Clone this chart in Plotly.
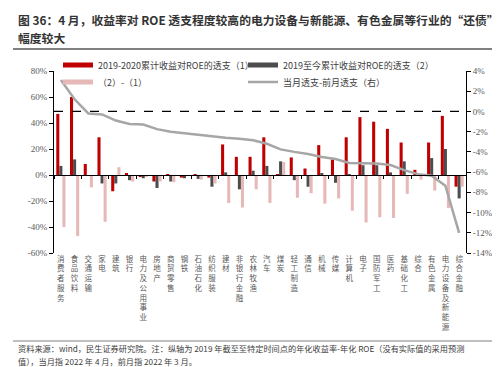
import plotly.graph_objects as go

categories = ["消费者服务","食品饮料","交通运输","家电","建筑","银行","电力及公用事业","房地产","商贸零售","钢铁",
              "石油石化","纺织服装","建材","非银行金融","农林牧渔","汽车","煤炭","轻工制造","通信","机械",
              "传媒","计算机","电子","国防军工","医药","基础化工","综合","有色金属","电力设备及新能源","综合金融"]

s1_2019_2020 = [47, 60, 8.5, 29, -12.5, 1, -1, -5, 0.5, -2,
                0.5, -2, 23.5, 14, 14, 29, 0.5, 13.5, 5, 23,
                12, 29, 44.5, 41, 35.5, 25, 4, 25, 45.5, -9]
s2_2019_now = [7, 12, -0.5, -6.5, -6.5, -4, -2.5, -10, -5, -2.5,
               -3, -9, 2, -11, 3.3, 7, 10.5, -4, -9, 1.3,
               -6, 0.5, 7.5, 7.5, 2, 10.5, 0.5, 13, 20, -18]
s_diff = [-40, -47, -9.5, -36, 6, -5, -1.5, -5, -5.5, -0.5,
          -3.5, -6.5, -21.5, -25, -11, -21.5, 10, -17.5, -14, -22,
          -18, -27.5, -36.5, -32.5, -33, -14.5, -3.5, -12, -25.5, -9]
line_month = [3.1, 1.2, -0.2, -0.3, -0.9, -1.25, -1.3, -1.75, -2.0, -2.15,
              -2.3, -2.5, -2.6, -2.7, -2.85, -3.2, -3.75, -4.0, -4.2, -4.5,
              -4.7, -5.1, -5.15, -5.15, -5.3, -5.8, -6.2, -6.35, -7.35, -12.0]

names = ["2019-2020累计收益对ROE的透支（1）", "2019至今累计收益对ROE的透支（2）",
         "（2）-（1）", "当月透支-前月透支（右）"]

left_ticks = [80, 60, 40, 20, 0, -20, -40, -60]
right_ticks = [4, 2, 0, -2, -4, -6, -8, -10, -12, -14]

RED = "#C00000"
DARK = "#4D4D4D"
PINK = "#E6B9B8"
GRAY = "#A6A6A6"
CJK = "Noto Sans CJK SC"
SERIF = "Liberation Serif"

W, H = 500, 367
L, R, T, B = 46, 42, 63, 122
PW, PH = W - L - R, H - T - B


def px_x(x):
    return (x - L) / PW


def px_y(y):
    return 1 - (y - T) / PH


fig = go.Figure()
cols = [RED, DARK, PINK]
for vals, c, n in zip([s1_2019_2020, s2_2019_now, s_diff], cols, names[:3]):
    fig.add_trace(go.Bar(x=categories, y=vals, marker=dict(color=c, line=dict(width=0)),
                         name=n, showlegend=False))

fig.add_trace(go.Scatter(x=categories, y=line_month, mode="lines", line=dict(color=GRAY, width=2.5),
                         name=names[3], showlegend=False, xaxis="x2", yaxis="y2"))

# legend-only entries (wide bar-like symbols), two rows via two legends
leg_specs = [(RED, 5, names[0], "legend"), (DARK, 5, names[1], "legend"),
             (PINK, 5, names[2], "legend2"), (GRAY, 2.5, names[3], "legend2")]
for c, w, n, lg in leg_specs:
    fig.add_trace(go.Scatter(x=[None], y=[None], mode="lines", line=dict(color=c, width=w),
                             name=n, legend=lg))

ticktext = ["<br>".join(list(c)) for c in categories]

leg_common = dict(orientation="h", xanchor="left", yanchor="middle",
                  entrywidth=140, entrywidthmode="pixels", itemwidth=30,
                  font=dict(family=CJK, size=9, color="#404040"),
                  bgcolor="rgba(0,0,0,0)", traceorder="normal")

fig.update_layout(
    width=W, height=H,
    margin=dict(l=L, r=R, t=T, b=B, autoexpand=False),
    paper_bgcolor="white", plot_bgcolor="white",
    barmode="group", bargap=0.33, bargroupgap=0,
    font=dict(family=CJK, size=8.5, color="#404040"),
    legend=dict(x=px_x(50), y=px_y(57), **leg_common),
    legend2=dict(x=px_x(50), y=px_y(74), **leg_common),
    xaxis=dict(type="category", categoryorder="array", categoryarray=categories,
               tickmode="array", tickvals=categories, ticktext=ticktext,
               tickfont=dict(family=CJK, size=7.5, color="#595959"),
               showline=False, ticks="", showgrid=False, zeroline=False, range=[-0.5, 29.5]),
    xaxis2=dict(type="category", categoryorder="array", categoryarray=categories,
                overlaying="x", anchor="free", position=60/140, showticklabels=False,
                showline=True, linecolor="#000000", linewidth=1, ticks="outside", ticklen=3,
                tickcolor="#000000", tickson="boundaries", showgrid=False, zeroline=False,
                range=[-0.5, 29.5]),
    yaxis=dict(range=[-60, 80], tickmode="array", tickvals=left_ticks,
               ticktext=[f"{v}%" for v in left_ticks],
               tickfont=dict(family=SERIF, size=9, color="#595959"),
               showline=True, linecolor="#000000", linewidth=1, ticks="outside", ticklen=4,
               tickcolor="#000000", showgrid=False, zeroline=False),
    yaxis2=dict(range=[-14, 4], overlaying="y", side="right", anchor="x",
                tickmode="array", tickvals=right_ticks,
                ticktext=[f"{v}%" for v in right_ticks],
                tickfont=dict(family=SERIF, size=9, color="#595959"),
                showline=True, linecolor="#000000", linewidth=1, ticks="outside", ticklen=4,
                tickcolor="#000000", showgrid=False, zeroline=False),
)

# dashed reference line at right-axis 0%
fig.add_shape(type="line", xref="paper", x0=0, x1=1, yref="y2", y0=0, y1=0,
              line=dict(color="#000000", width=1.2, dash="dash"))

# title
fig.add_annotation(xref="paper", yref="paper", x=px_x(8), y=px_y(11), xanchor="left", yanchor="middle",
                   text="<b>图 36：4 月，收益率对 ROE 透支程度较高的电力设备与新能源、有色金属等行业的“还债”</b>",
                   showarrow=False, font=dict(family=CJK, size=11.8, color="#333333"))
fig.add_annotation(xref="paper", yref="paper", x=px_x(8), y=px_y(30), xanchor="left", yanchor="middle",
                   text="<b>幅度较大</b>", showarrow=False, font=dict(family=CJK, size=11.8, color="#333333"))
# rules
fig.add_shape(type="line", xref="paper", yref="paper", x0=px_x(5), x1=px_x(495),
              y0=px_y(41), y1=px_y(41), line=dict(color="#808080", width=2))
fig.add_shape(type="line", xref="paper", yref="paper", x0=px_x(5), x1=px_x(495),
              y0=px_y(333), y1=px_y(333), line=dict(color="#808080", width=1))
# footnote
fig.add_annotation(xref="paper", yref="paper", x=px_x(8), y=px_y(340), xanchor="left", yanchor="middle",
                   text="资料来源：wind，民生证券研究院。注：纵轴为 2019 年截至至特定时间点的年化收益率-年化 ROE（没有实际值的采用预测",
                   showarrow=False, font=dict(family=CJK, size=8.2, color="#404040"))
fig.add_annotation(xref="paper", yref="paper", x=px_x(8), y=px_y(353), xanchor="left", yanchor="middle",
                   text="值），当月指 2022 年 4 月，前月指 2022 年 3 月。",
                   showarrow=False, font=dict(family=CJK, size=8.2, color="#404040"))

fig.write_html("out.html")
